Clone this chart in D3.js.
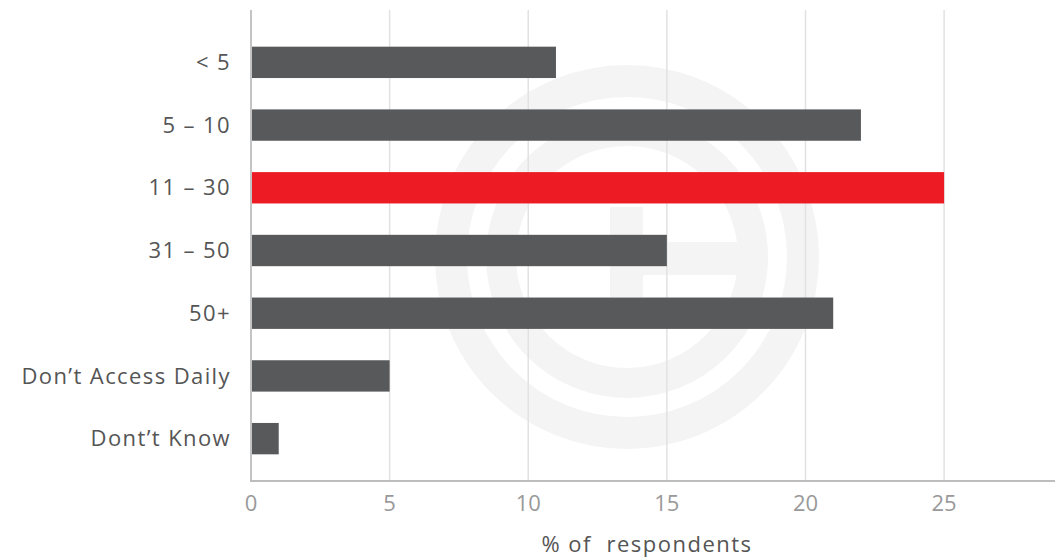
<!DOCTYPE html>
<html>
<head>
<meta charset="utf-8">
<script src="https://cdn.jsdelivr.net/npm/d3@7"></script>
<style>
  body { margin: 0; background: #fff; }
  svg text { font-family: "Open Sans", sans-serif; }
</style>
</head>
<body>
<div id="chart"></div>
<script>
// Daily access counts — % of respondents
const categories = ["< 5", "5 \u2013 10", "11 \u2013 30", "31 \u2013 50", "50+", "Don\u2019t Access Daily", "Dont\u2019t Know"];
const values = [11, 22, 25, 15, 21, 5, 1];
const highlight = "11 \u2013 30";
const xTicks = [0, 5, 10, 15, 20, 25];

const width = 1055, height = 560;
const svg = d3.select("#chart").append("svg")
  .attr("width", width).attr("height", height);

const x = d3.scaleLinear().domain([0, 29]).range([251, 1055]);
const y = d3.scaleBand().domain(categories).range([31, 470])
  .paddingInner(0.5).paddingOuter(0.25);

// faint watermark logo
const wm = svg.append("g").attr("fill", "none").attr("stroke", "#f4f4f4");
wm.append("circle").attr("cx", 627).attr("cy", 257).attr("r", 176).attr("stroke-width", 32);
wm.append("circle").attr("cx", 627).attr("cy", 257).attr("r", 126).attr("stroke-width", 30);
svg.append("rect").attr("x", 610).attr("y", 207).attr("width", 33).attr("height", 90).attr("fill", "#f4f4f4");
svg.append("rect").attr("x", 643).attr("y", 242).attr("width", 122).attr("height", 33).attr("fill", "#f4f4f4");

// gridlines
svg.append("g")
  .selectAll("line")
  .data(xTicks)
  .join("line")
  .attr("x1", (d) => x(d)).attr("x2", (d) => x(d))
  .attr("y1", 10).attr("y2", 481)
  .attr("stroke", (d) => (d === 0 ? "#c4c4c4" : "#e2e2e2"))
  .attr("stroke-width", (d) => (d === 0 ? 2 : 1.5));

// bars
svg.append("g")
  .selectAll("rect")
  .data(categories)
  .join("rect")
  .attr("x", x(0) + 1)
  .attr("y", (d) => y(d))
  .attr("width", (d, i) => x(values[i]) - x(0) - 1)
  .attr("height", y.bandwidth())
  .attr("fill", (d) => (d === highlight ? "#ed1c24" : "#58595b"));

// x axis line
svg.append("line")
  .attr("x1", x(0) - 1).attr("x2", width)
  .attr("y1", 481).attr("y2", 481)
  .attr("stroke", "#bdbdbd").attr("stroke-width", 2);

// x tick labels
svg.append("g")
  .selectAll("text")
  .data(xTicks)
  .join("text")
  .attr("x", (d) => x(d))
  .attr("y", 511)
  .attr("text-anchor", "middle")
  .attr("font-size", 22)
  .attr("fill", "#999")
  .text((d) => d);

// category labels
svg.append("g")
  .selectAll("text")
  .data(categories)
  .join("text")
  .attr("x", 231)
  .attr("y", (d) => y(d) + y.bandwidth() / 2)
  .attr("dy", "0.35em")
  .attr("text-anchor", "end")
  .attr("font-size", 22)
  .attr("letter-spacing", 1.4)
  .attr("fill", "#555")
  .text((d) => d);

// axis title
svg.append("text")
  .attr("x", 647).attr("y", 552)
  .attr("text-anchor", "middle")
  .attr("font-size", 22)
  .attr("letter-spacing", 1.5)
  .attr("fill", "#555")
  .attr("xml:space", "preserve")
  .text("% of  respondents");
</script>
</body>
</html>
